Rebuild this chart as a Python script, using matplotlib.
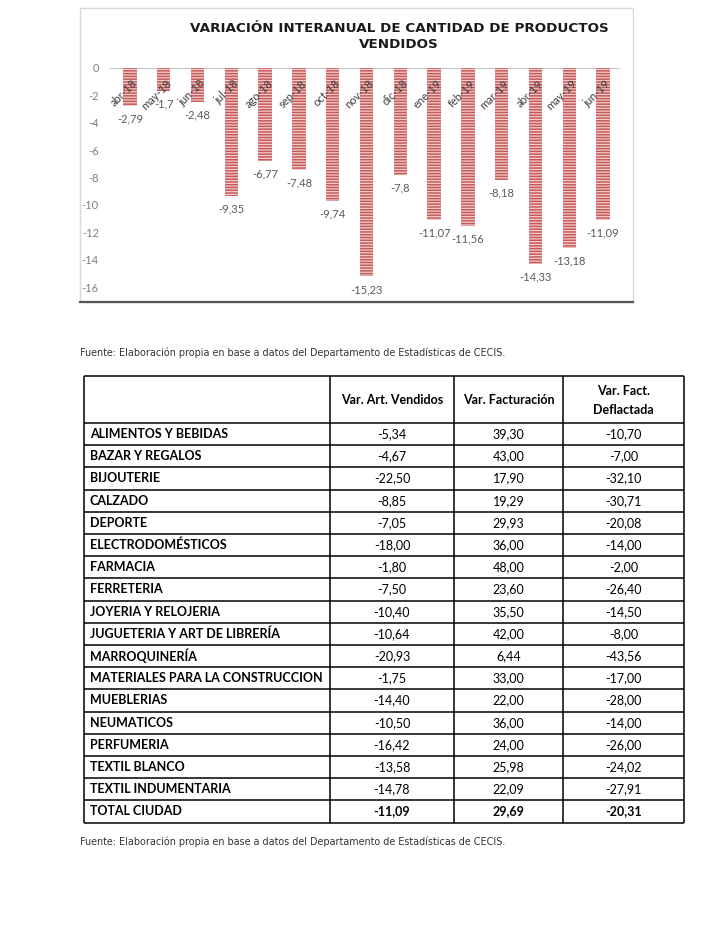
import matplotlib
matplotlib.use("Agg")
import matplotlib.pyplot as plt
from matplotlib.patches import Rectangle
from matplotlib.lines import Line2D

# chart data
months = ["abr-18", "may-18", "jun-18", "jul-18", "ago-18", "sep-18", "oct-18",
          "nov-18", "dic-18", "ene-19", "feb-19", "mar-19", "abr-19", "may-19", "jun-19"]
var_vendidos = [-2.79, -1.7, -2.48, -9.35, -6.77, -7.48, -9.74,
                -15.23, -7.8, -11.07, -11.56, -8.18, -14.33, -13.18, -11.09]
y_ticks = list(range(-16, 1, 2))

# table data
rubros = ["ALIMENTOS Y BEBIDAS", "BAZAR Y REGALOS", "BIJOUTERIE", "CALZADO", "DEPORTE",
          "ELECTRODOMÉSTICOS", "FARMACIA", "FERRETERIA", "JOYERIA Y RELOJERIA",
          "JUGUETERIA Y ART DE LIBRERÍA", "MARROQUINERÍA", "MATERIALES PARA LA CONSTRUCCION",
          "MUEBLERIAS", "NEUMATICOS", "PERFUMERIA", "TEXTIL BLANCO", "TEXTIL INDUMENTARIA",
          "TOTAL CIUDAD"]
var_art = ["-5,34", "-4,67", "-22,50", "-8,85", "-7,05", "-18,00", "-1,80", "-7,50", "-10,40",
           "-10,64", "-20,93", "-1,75", "-14,40", "-10,50", "-16,42", "-13,58", "-14,78", "-11,09"]
var_fact = ["39,30", "43,00", "17,90", "19,29", "29,93", "36,00", "48,00", "23,60", "35,50",
            "42,00", "6,44", "33,00", "22,00", "36,00", "24,00", "25,98", "22,09", "29,69"]
var_defl = ["-10,70", "-7,00", "-32,10", "-30,71", "-20,08", "-14,00", "-2,00", "-26,40", "-14,50",
            "-8,00", "-43,56", "-17,00", "-28,00", "-14,00", "-26,00", "-24,02", "-27,91", "-20,31"]
headers = ["", "Var. Art. Vendidos", "Var. Facturación", "Var. Fact.\nDeflactada"]

fuente = "Fuente: Elaboración propia en base a datos del Departamento de Estadísticas de CECIS."

W, H = 720, 931
plt.rcParams['hatch.linewidth'] = 1.1
fig = plt.figure(figsize=(W / 100, H / 100), dpi=100)
fig.patch.set_facecolor('white')


def fx(x):
    return x / W


def fy(y):
    return 1 - y / H


# chart frame
fig.patches.append(Rectangle((fx(80), fy(302)), fx(633) - fx(80), fy(8) - fy(302),
                             transform=fig.transFigure, fill=False,
                             edgecolor='#d9d9d9', linewidth=1))
fig.lines.append(Line2D([fx(80), fx(633)], [fy(302), fy(302)], transform=fig.transFigure,
                        color='#555555', linewidth=1.6))

ax = fig.add_axes([fx(110), fy(287), fx(620) - fx(110), fy(68) - fy(287)])
x = list(range(len(months)))
ax.bar(x, var_vendidos, width=0.4, facecolor='#f3cccc', edgecolor='#c65a5a',
       linewidth=0, hatch='------', zorder=2)
ax.axhline(0, color='#bfbfbf', linewidth=1.3, zorder=1)
ax.set_xlim(-0.59, 14.5)
ax.set_ylim(-16, 0)
ax.set_yticks(y_ticks)
ax.set_yticklabels([str(t) for t in y_ticks], fontsize=8, color='#7f7f7f', family='Lato')
ax.tick_params(axis='y', length=0, pad=8)
ax.set_xticks([])
for s in ax.spines.values():
    s.set_visible(False)

for i, (m, v) in enumerate(zip(months, var_vendidos)):
    ax.text(i + 0.17, -1.0, m, rotation=45, rotation_mode='anchor', ha='right', va='center',
            fontsize=8, color='#404040', family='Lato', zorder=3)
    ax.text(i, v - 0.95, f"{v:g}".replace('.', ','), ha='center', va='center',
            fontsize=8, color='#595959', family='Lato', clip_on=False)

fig.text(fx(399), fy(36), "VARIACIÓN INTERANUAL DE CANTIDAD DE PRODUCTOS\nVENDIDOS",
         ha='center', va='center', fontsize=9.7, fontweight='bold', color='#1a1a1a',
         linespacing=1.3)

fig.text(fx(80), fy(353), fuente, ha='left', va='center', fontsize=6.9, color='#333333')
fig.text(fx(80), fy(842), fuente, ha='left', va='center', fontsize=6.9, color='#333333')

# table
col_x = [84, 330, 454, 563, 684]
top, head_bottom, row_h = 376, 423, 22.2
bottom = head_bottom + row_h * len(rubros)
tax = fig.add_axes([fx(84), fy(bottom), fx(684) - fx(84), fy(top) - fy(bottom)])
tax.set_xlim(84, 684)
tax.set_ylim(bottom, top)
tax.axis('off')

lw = 1.1
tax.hlines([top, head_bottom] + [head_bottom + row_h * k for k in range(1, len(rubros) + 1)],
           col_x[0], col_x[-1], color='black', linewidth=lw, clip_on=False)
tax.vlines(col_x, top, bottom, color='black', linewidth=lw, clip_on=False)

for j, h in enumerate(headers):
    if h:
        cx = (col_x[j] + col_x[j + 1]) / 2
        tax.text(cx, (top + head_bottom) / 2 + 1, h, ha='center', va='center', fontsize=9,
                 fontweight='bold', family='Lato', linespacing=1.75)

cols = [var_art, var_fact, var_defl]
for r, name in enumerate(rubros):
    cy = head_bottom + row_h * (r + 0.5)
    total = name == "TOTAL CIUDAD"
    tax.text(90, cy, name, ha='left', va='center', fontsize=9, fontweight='bold', family='Lato')
    for j, col in enumerate(cols):
        cx = (col_x[j + 1] + col_x[j + 2]) / 2
        tax.text(cx, cy, col[r], ha='center', va='center', fontsize=9, family='Lato',
                 fontweight='bold' if total else 'normal')

fig.savefig("out.png", dpi=100, facecolor='white')
